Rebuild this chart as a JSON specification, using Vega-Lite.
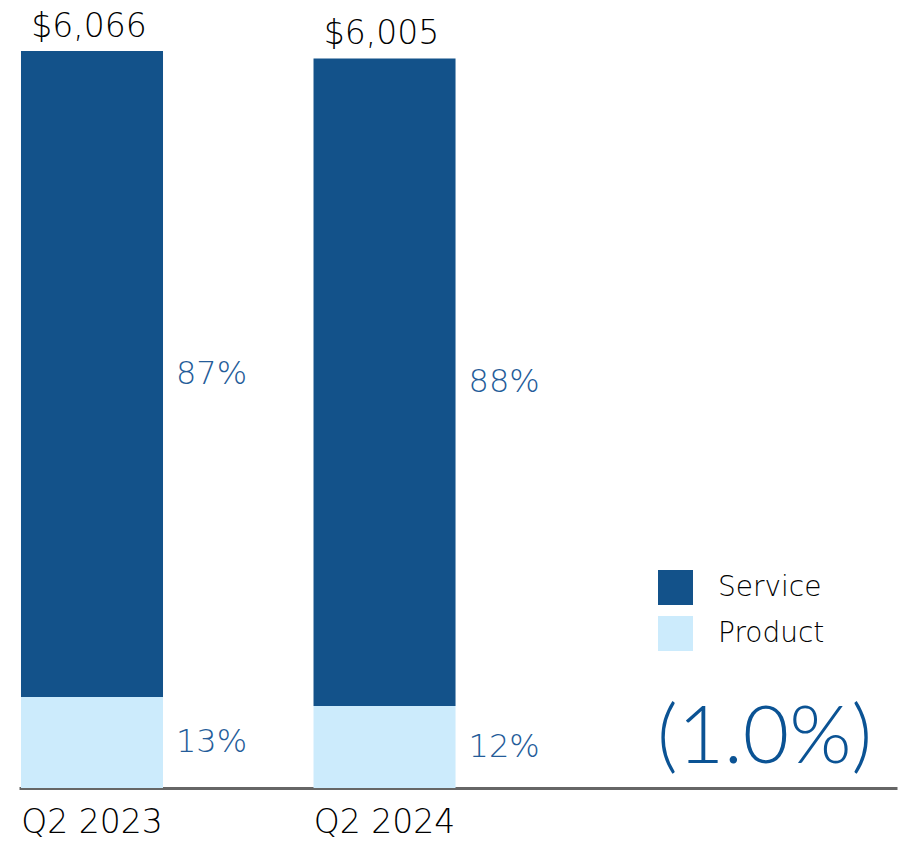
{
  "$schema": "https://vega.github.io/schema/vega-lite/v6.json",
  "width": 878,
  "height": 788,
  "autosize": "none",
  "padding": {"left": 19, "top": 0, "right": 22, "bottom": 61},
  "config": {"view": {"stroke": null}, "font": "DejaVu Sans"},
  "datasets": {
    "bars": [
      {"quarter": "Q2 2023", "segment": "Service", "value": 5316, "pct": "87%"},
      {"quarter": "Q2 2023", "segment": "Product", "value": 750, "pct": "13%"},
      {"quarter": "Q2 2024", "segment": "Service", "value": 5330, "pct": "88%"},
      {"quarter": "Q2 2024", "segment": "Product", "value": 675, "pct": "12%"}
    ],
    "note": [
      {"quarter": "Change", "label": "(1.0%)"}
    ]
  },
  "encoding": {
    "x": {
      "field": "quarter",
      "type": "nominal",
      "scale": {"domain": ["Q2 2023", "Q2 2024", "Change"], "paddingInner": 0.5145, "paddingOuter": 0.258, "align": 0.0132},
      "axis": {
        "title": null,
        "labelAngle": 0,
        "labelExpr": "datum.value == 'Change' ? '' : datum.value",
        "labelFontSize": 33,
        "labelColor": "#000000",
        "labelFont": "DejaVu Sans",
        "labelFontWeight": 200,
        "labelPadding": 18,
        "ticks": false,
        "domainColor": "#666666",
        "domainWidth": 3
      }
    }
  },
  "layer": [
    {
      "data": {"name": "bars"},
      "mark": {"type": "bar"},
      "encoding": {
        "y": {"field": "value", "type": "quantitative", "aggregate": "sum", "stack": "zero", "scale": {"domain": [0, 6486], "nice": false}, "axis": null},
        "color": {
          "field": "segment",
          "type": "nominal",
          "scale": {"domain": ["Service", "Product"], "range": ["#13528A", "#CCEBFC"]},
          "legend": {
            "title": null,
            "orient": "none",
            "legendX": 639,
            "legendY": 570,
            "padding": 0,
            "symbolType": "square",
            "symbolSize": 1225,
            "symbolStrokeWidth": 0,
            "labelFontSize": 28,
            "labelFont": "DejaVu Sans",
            "labelFontWeight": 200,
            "labelColor": "#000000",
            "labelOffset": 25,
            "rowPadding": 11
          }
        },
        "order": {"field": "segment", "sort": "ascending"}
      }
    },
    {
      "data": {"name": "bars"},
      "transform": [
        {"aggregate": [{"op": "sum", "field": "value", "as": "total"}], "groupby": ["quarter"]}
      ],
      "mark": {"type": "text", "fontSize": 33, "fontWeight": 200, "color": "#000000", "baseline": "alphabetic", "dy": -14, "dx": -3},
      "encoding": {
        "y": {"field": "total", "type": "quantitative"},
        "text": {"field": "total", "type": "quantitative", "format": "$,.0f"}
      }
    },
    {
      "data": {"name": "bars"},
      "transform": [
        {"stack": "value", "groupby": ["quarter"], "sort": [{"field": "segment", "order": "ascending"}], "as": ["v0", "v1"]},
        {"calculate": "(datum.v0 + datum.v1) / 2", "as": "mid"}
      ],
      "mark": {"type": "text", "fontSize": 32, "fontWeight": 200, "color": "#245C99", "align": "left", "baseline": "middle", "dx": 13},
      "encoding": {
        "x": {"field": "quarter", "type": "nominal", "bandPosition": 1},
        "y": {"field": "mid", "type": "quantitative"},
        "text": {"field": "pct"}
      }
    },
    {
      "data": {"name": "note"},
      "mark": {"type": "text", "font": "Lato", "fontSize": 80, "fontWeight": 300, "color": "#0B5394", "align": "left", "baseline": "alphabetic", "dx": 51, "dy": -25},
      "encoding": {
        "x": {"field": "quarter", "type": "nominal", "bandPosition": 0},
        "y": {"datum": 0},
        "text": {"field": "label"}
      }
    }
  ]
}
